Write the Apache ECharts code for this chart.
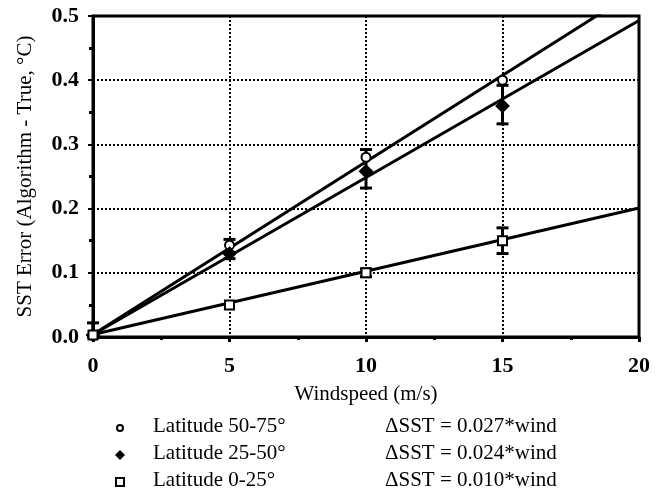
<!DOCTYPE html>
<html><head><meta charset="utf-8">
<script src="https://cdn.jsdelivr.net/npm/echarts@6/dist/echarts.min.js"></script>
<style>html,body{margin:0;padding:0;background:#fff}#c{width:662px;height:500px}</style>
</head><body><div id="c"></div>
<script>
const xTicks = [0, 5, 10, 15, 20];
const yTicks = [0.0, 0.1, 0.2, 0.3, 0.4, 0.5];
const lat50_75 = [[0, 0.003], [5, 0.143], [10, 0.28], [15, 0.40]];
const lat25_50 = [[0, 0.003], [5, 0.13], [10, 0.258], [15, 0.36]];
const lat0_25 = [[0, 0.003], [5, 0.05], [10, 0.10], [15, 0.15]];
const fit50_75 = [[0, 0.004], [20, 0.542]];
const fit25_50 = [[0, 0.004], [20, 0.493]];
const fit0_25 = [[0, 0.004], [20, 0.201]];
const errorBars = [[0, 0.0, 0.022], [5, 0.122, 0.152], [10, 0.232, 0.292], [15, 0.332, 0.392], [15, 0.13, 0.17], [10, 0.094, 0.106]];
const legendLabels = ['Latitude 50-75°', 'Latitude 25-50°', 'Latitude 0-25°'];
const fitLabels = ['ΔSST = 0.027*wind', 'ΔSST = 0.024*wind', 'ΔSST = 0.010*wind'];
const xName = 'Windspeed (m/s)';
const yName = 'SST Error (Algorithm - True, °C)';

const font = 'Liberation Serif';
const chart = echarts.init(document.getElementById('c'));
const lineSeries = (d) => ({type: 'line', data: d, symbol: 'none', clip: true, lineStyle: {color: '#000', width: 3}, z: 3, silent: true});
const symbols = ['circle', 'diamond', 'rect'];
const fills = ['#fff', '#000', '#fff'];
const legendY = [428, 455, 482];
const graphics = [];
legendLabels.forEach((t, i) => {
  graphics.push({type: 'text', left: 153, top: legendY[i] - 12, style: {text: t, font: '21px "Liberation Serif"', fill: '#000'}});
  graphics.push({type: 'text', left: 385, top: legendY[i] - 12, style: {text: fitLabels[i], font: '21px "Liberation Serif"', fill: '#000'}});
});
graphics.push({type: 'circle', shape: {cx: 120, cy: legendY[0], r: 3}, style: {fill: '#fff', stroke: '#000', lineWidth: 2}});
graphics.push({type: 'polygon', shape: {points: [[120, legendY[1] - 5], [125, legendY[1]], [120, legendY[1] + 5], [115, legendY[1]]]}, style: {fill: '#000'}});
graphics.push({type: 'rect', shape: {x: 116, y: legendY[2] - 4, width: 8, height: 8}, style: {fill: '#fff', stroke: '#000', lineWidth: 2}});

chart.setOption({
  animation: false,
  textStyle: {fontFamily: font, color: '#000'},
  grid: {left: 93, right: 23, top: 16, bottom: 163, show: true, borderColor: '#000', borderWidth: 3, backgroundColor: 'transparent'},
  xAxis: {
    type: 'value', min: xTicks[0], max: xTicks[xTicks.length - 1], interval: 5,
    name: xName, nameLocation: 'middle', nameGap: 47,
    nameTextStyle: {fontFamily: font, fontSize: 21, color: '#000'},
    axisLine: {show: true, lineStyle: {color: '#000', width: 3}},
    axisTick: {show: true, length: 5, inside: false, lineStyle: {color: '#000', width: 3}},
    minorTick: {show: true, splitNumber: 2, length: 3, lineStyle: {color: '#000', width: 3}},
    axisLabel: {margin: 18, fontFamily: font, fontSize: 22, fontWeight: 'bold', color: '#000'},
    splitLine: {show: true, lineStyle: {color: '#000', width: 2, type: 'dotted'}}
  },
  yAxis: {
    type: 'value', min: yTicks[0], max: yTicks[yTicks.length - 1], interval: 0.1,
    name: yName, nameLocation: 'middle', nameGap: 57, nameRotate: 90,
    nameTextStyle: {fontFamily: font, fontSize: 21, color: '#000'},
    axisLine: {show: true, lineStyle: {color: '#000', width: 3}},
    axisTick: {show: true, length: 5, lineStyle: {color: '#000', width: 2}},
    minorTick: {show: true, splitNumber: 2, length: 4, lineStyle: {color: '#000', width: 3}},
    axisLabel: {margin: 14, fontFamily: font, fontSize: 22, fontWeight: 'bold', color: '#000', formatter: v => v.toFixed(1)},
    splitLine: {show: true, lineStyle: {color: '#000', width: 2, type: 'dotted'}}
  },
  series: [
    lineSeries(fit50_75), lineSeries(fit25_50), lineSeries(fit0_25),
    {
      type: 'custom', data: errorBars, z: 4, silent: true,
      renderItem: (params, api) => {
        const x = api.value(0);
        const lo = api.coord([x, api.value(1)]);
        const hi = api.coord([x, api.value(2)]);
        const s = {stroke: '#000', lineWidth: 3};
        return {type: 'group', children: [
          {type: 'line', shape: {x1: lo[0], y1: lo[1], x2: hi[0], y2: hi[1]}, style: s},
          {type: 'line', shape: {x1: lo[0] - 6, y1: lo[1], x2: lo[0] + 6, y2: lo[1]}, style: s},
          {type: 'line', shape: {x1: hi[0] - 6, y1: hi[1], x2: hi[0] + 6, y2: hi[1]}, style: s}
        ]};
      }
    },
    ...[lat50_75, lat25_50, lat0_25].map((d, i) => ({
      type: 'scatter', data: d, symbol: symbols[i], symbolSize: i === 1 ? 12 : 9, z: 5, silent: true,
      itemStyle: {color: fills[i], borderColor: '#000', borderWidth: 2, opacity: 1}
    }))
  ],
  graphic: graphics
});
</script></body></html>
